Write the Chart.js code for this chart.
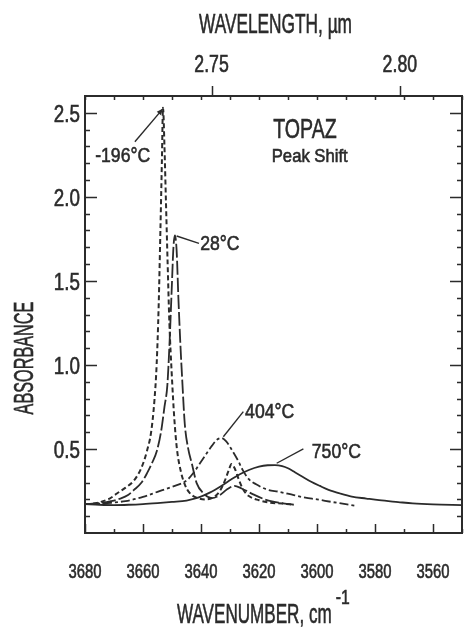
<!DOCTYPE html>
<html>
<head>
<meta charset="utf-8">
<script src="https://cdn.jsdelivr.net/npm/chart.js@4/dist/chart.umd.min.js"></script>
<style>
  html, body { margin: 0; padding: 0; background: #ffffff; }
  #wrap { width: 464px; height: 627px; }
</style>
</head>
<body>
<div id="wrap"><canvas id="c" width="464" height="627"></canvas></div>
<script>
const FONT = '"Liberation Sans", Arial, sans-serif';
const INK = '#2b2b2b';

// -196 °C spectrum (wavenumber cm-1, absorbance)
const wnCold  = [3680, 3677, 3674.6, 3671.5, 3669, 3666, 3663.2, 3660.5, 3658.6, 3657.2, 3656.1, 3655.3, 3654.6, 3654.0, 3653.5, 3653.1, 3652.6, 3652.1, 3651.5, 3650.9, 3650.1, 3649.2, 3648.3, 3647.0, 3645.5, 3644.0, 3641.5, 3638.5, 3635.5, 3633.5, 3631.8, 3630.5, 3629.5, 3628.4, 3627.0, 3625.5, 3623.5, 3620, 3616, 3612, 3608];
const absCold = [0.172, 0.175, 0.185, 0.205, 0.235, 0.27, 0.31, 0.39, 0.49, 0.6, 0.78, 1.0, 1.35, 1.8, 2.2, 2.53, 2.3, 1.98, 1.6, 1.25, 0.95, 0.68, 0.5, 0.37, 0.285, 0.24, 0.21, 0.2, 0.215, 0.25, 0.31, 0.37, 0.41, 0.385, 0.32, 0.26, 0.22, 0.195, 0.18, 0.175, 0.168];

// 28 °C spectrum
const wnRoom  = [3680, 3675, 3671, 3667.8, 3665, 3663.2, 3660.5, 3658.6, 3656.8, 3655.2, 3653.8, 3652.6, 3651.6, 3650.8, 3650.1, 3649.5, 3649.0, 3648.4, 3647.8, 3647.1, 3646.5, 3645.6, 3644.4, 3643.2, 3641.5, 3639.2, 3636.3, 3633.5, 3631, 3628.5, 3626, 3622, 3618, 3613, 3608];
const absRoom = [0.172, 0.178, 0.19, 0.205, 0.228, 0.255, 0.3, 0.356, 0.42, 0.49, 0.6, 0.75, 0.88, 1.15, 1.45, 1.7, 1.77, 1.68, 1.4, 1.12, 0.92, 0.65, 0.5, 0.416, 0.297, 0.237, 0.207, 0.225, 0.26, 0.28, 0.265, 0.23, 0.2, 0.18, 0.168];

// 404 °C spectrum
const wnWarm  = [3680, 3675, 3671, 3666, 3660, 3655, 3650, 3644.8, 3642.5, 3640.3, 3638.2, 3636.2, 3634.5, 3633.0, 3631.3, 3629.2, 3627.2, 3625.6, 3623.5, 3621, 3617.5, 3613, 3608, 3604, 3600, 3595, 3587];
const absWarm = [0.172, 0.175, 0.18, 0.19, 0.215, 0.245, 0.275, 0.315, 0.36, 0.416, 0.47, 0.52, 0.555, 0.565, 0.545, 0.49, 0.43, 0.374, 0.32, 0.29, 0.26, 0.245, 0.225, 0.21, 0.2, 0.185, 0.163];

// 750 °C spectrum
const wnHot  = [3680, 3675, 3670, 3665, 3660, 3655, 3650, 3645, 3641, 3637, 3633, 3629.5, 3626.6, 3623.5, 3620, 3617, 3614.5, 3612, 3610, 3607.5, 3605, 3602, 3599, 3596, 3592, 3588, 3583, 3578.6, 3572, 3567, 3560, 3550];
const absHot = [0.172, 0.168, 0.166, 0.168, 0.172, 0.178, 0.185, 0.193, 0.21, 0.24, 0.28, 0.32, 0.35, 0.375, 0.395, 0.403, 0.404, 0.398, 0.385, 0.36, 0.335, 0.305, 0.28, 0.257, 0.235, 0.217, 0.205, 0.195, 0.184, 0.176, 0.17, 0.166];

// axis ticks
const wavenumberTicks = [3680, 3670, 3660, 3650, 3640, 3630, 3620, 3610, 3600, 3590, 3580, 3570, 3560, 3550];
const wavenumberLabels = [3680, 3660, 3640, 3620, 3600, 3580, 3560];
const wavelengthTicks = [2.75, 2.80];
const absorbanceTicks = [0.1, 0.2, 0.3, 0.4, 0.5, 0.6, 0.7, 0.8, 0.9, 1.0, 1.1, 1.2, 1.3, 1.4, 1.5, 1.6, 1.7, 1.8, 1.9, 2.0, 2.1, 2.2, 2.3, 2.4, 2.5];
const absorbanceLabels = [0.5, 1.0, 1.5, 2.0, 2.5];

// curve labels: text, left-baseline anchor (wavenumber, absorbance), leader line from/to
const curveNotes = [
  { text: '-196°C', at: [3676.5, 2.207], from: [3662.8, 2.328], to: [3653.1, 2.525], arrow: true },
  { text: '28°C',   at: [3640.3, 1.684], from: [3640.7, 1.723], to: [3648.4, 1.767] },
  { text: '404°C',  at: [3624.8, 0.684], from: [3625.4, 0.722], to: [3632.3, 0.573] },
  { text: '750°C',  at: [3601.8, 0.446], from: [3604.7, 0.500], to: [3613.9, 0.415] }
];

const pairs = (xs, ys) => xs.map((x, i) => ({ x: x, y: ys[i] }));

// narrow plotter-style lettering: regular face squeezed horizontally, lightly outlined
function letter(ctx, text, x, y, size, squeeze, align, rotation) {
  ctx.save();
  ctx.translate(x, y);
  if (rotation) ctx.rotate(rotation);
  ctx.scale(squeeze, 1);
  ctx.font = `${size}px ${FONT}`;
  ctx.textAlign = align || 'left';
  ctx.textBaseline = 'alphabetic';
  ctx.lineWidth = 0.6;
  ctx.fillText(text, 0, 0);
  ctx.strokeText(text, 0, 0);
  const w = ctx.measureText(text).width * squeeze;
  ctx.restore();
  return w;
}

const framePlugin = {
  id: 'frameAndNotes',
  afterDatasetsDraw(chart) {
    const { ctx, chartArea: a, scales } = chart;
    const xs = scales.x, ys = scales.y;
    ctx.save();
    ctx.strokeStyle = INK;
    ctx.fillStyle = INK;
    ctx.lineCap = 'butt';

    // frame
    ctx.lineWidth = 2;
    ctx.strokeRect(a.left, a.top, a.right - a.left, a.bottom - a.top);

    // inward ticks on all sides, outward wavelength ticks on top
    ctx.lineWidth = 1.5;
    ctx.beginPath();
    absorbanceTicks.forEach(v => {
      const py = Math.round(ys.getPixelForValue(v)) + 0.5;
      const major = absorbanceLabels.some(l => Math.abs(l - v) < 1e-6);
      const len = major ? 12 : 5;
      ctx.moveTo(a.left, py); ctx.lineTo(a.left + len, py);
      ctx.moveTo(a.right, py); ctx.lineTo(a.right - len, py);
    });
    wavenumberTicks.forEach(v => {
      const px = Math.round(xs.getPixelForValue(v)) + 0.5;
      const major = wavenumberLabels.includes(v);
      ctx.moveTo(px, a.bottom); ctx.lineTo(px, a.bottom - (major ? 9 : 4));
      ctx.moveTo(px, a.top); ctx.lineTo(px, a.top + 4);
    });
    wavelengthTicks.forEach(um => {
      const px = Math.round(xs.getPixelForValue(1e4 / um)) + 0.5;
      ctx.moveTo(px, a.top); ctx.lineTo(px, a.top - 10);
    });
    ctx.stroke();

    // tick labels
    wavenumberLabels.forEach(v => letter(ctx, String(v), xs.getPixelForValue(v), a.bottom + 45, 19.5, 0.76, 'center'));
    absorbanceLabels.forEach(v => letter(ctx, v.toFixed(1), a.left - 5, ys.getPixelForValue(v) + 9, 23.5, 0.8, 'right'));
    wavelengthTicks.forEach(um => letter(ctx, um.toFixed(2), xs.getPixelForValue(1e4 / um), a.top - 24, 23, 0.77, 'center'));

    // axis titles
    letter(ctx, 'WAVELENGTH, µm', 199, 33, 27, 0.64, 'left');
    const wMain = letter(ctx, 'WAVENUMBER, cm', 177, 623, 28, 0.61, 'left');
    letter(ctx, '-1', 177 + wMain + 4, 604, 21, 0.75, 'left');
    letter(ctx, 'ABSORBANCE', 33, 358, 28, 0.58, 'center', -Math.PI / 2);

    // curve labels and leaders
    curveNotes.forEach(n => {
      const fx = xs.getPixelForValue(n.from[0]), fy = ys.getPixelForValue(n.from[1]);
      const tx = xs.getPixelForValue(n.to[0]),   ty = ys.getPixelForValue(n.to[1]);
      ctx.lineWidth = 1.4;
      ctx.beginPath(); ctx.moveTo(fx, fy); ctx.lineTo(tx, ty); ctx.stroke();
      if (n.arrow) {
        const ang = Math.atan2(ty - fy, tx - fx);
        ctx.beginPath();
        ctx.moveTo(tx, ty);
        ctx.lineTo(tx - 7 * Math.cos(ang - 0.4), ty - 7 * Math.sin(ang - 0.4));
        ctx.lineTo(tx - 7 * Math.cos(ang + 0.4), ty - 7 * Math.sin(ang + 0.4));
        ctx.closePath(); ctx.fill();
      }
      letter(ctx, n.text, xs.getPixelForValue(n.at[0]), ys.getPixelForValue(n.at[1]), 21, 0.84, 'left');
    });

    // sample name
    letter(ctx, 'TOPAZ', xs.getPixelForValue(3615.1), ys.getPixelForValue(2.35), 28, 0.7, 'left');
    letter(ctx, 'Peak Shift', xs.getPixelForValue(3615.6), ys.getPixelForValue(2.209), 18.5, 0.9, 'left');
    ctx.restore();
  }
};

new Chart(document.getElementById('c'), {
  type: 'line',
  data: {
    datasets: [
      { label: '-196°C', data: pairs(wnCold, absCold), borderDash: [5, 3], borderWidth: 2 },
      { label: '28°C',   data: pairs(wnRoom, absRoom), borderDash: [14, 3], borderWidth: 1.8 },
      { label: '404°C',  data: pairs(wnWarm, absWarm), borderDash: [9, 3, 3, 3], borderWidth: 1.8 },
      { label: '750°C',  data: pairs(wnHot, absHot), borderWidth: 1.8 }
    ]
  },
  options: {
    responsive: false,
    animation: false,
    devicePixelRatio: 1,
    layout: { padding: { left: 85, right: 2, top: 96, bottom: 94 } },
    plugins: { legend: { display: false }, tooltip: { enabled: false } },
    elements: {
      point: { radius: 0 },
      line: { borderColor: INK, fill: false, cubicInterpolationMode: 'monotone' }
    },
    scales: {
      x: { type: 'linear', display: false, reverse: true, min: 3550, max: 3680 },
      y: { type: 'linear', display: false, min: 0, max: 2.6 }
    }
  },
  plugins: [framePlugin]
});
</script>
</body>
</html>
